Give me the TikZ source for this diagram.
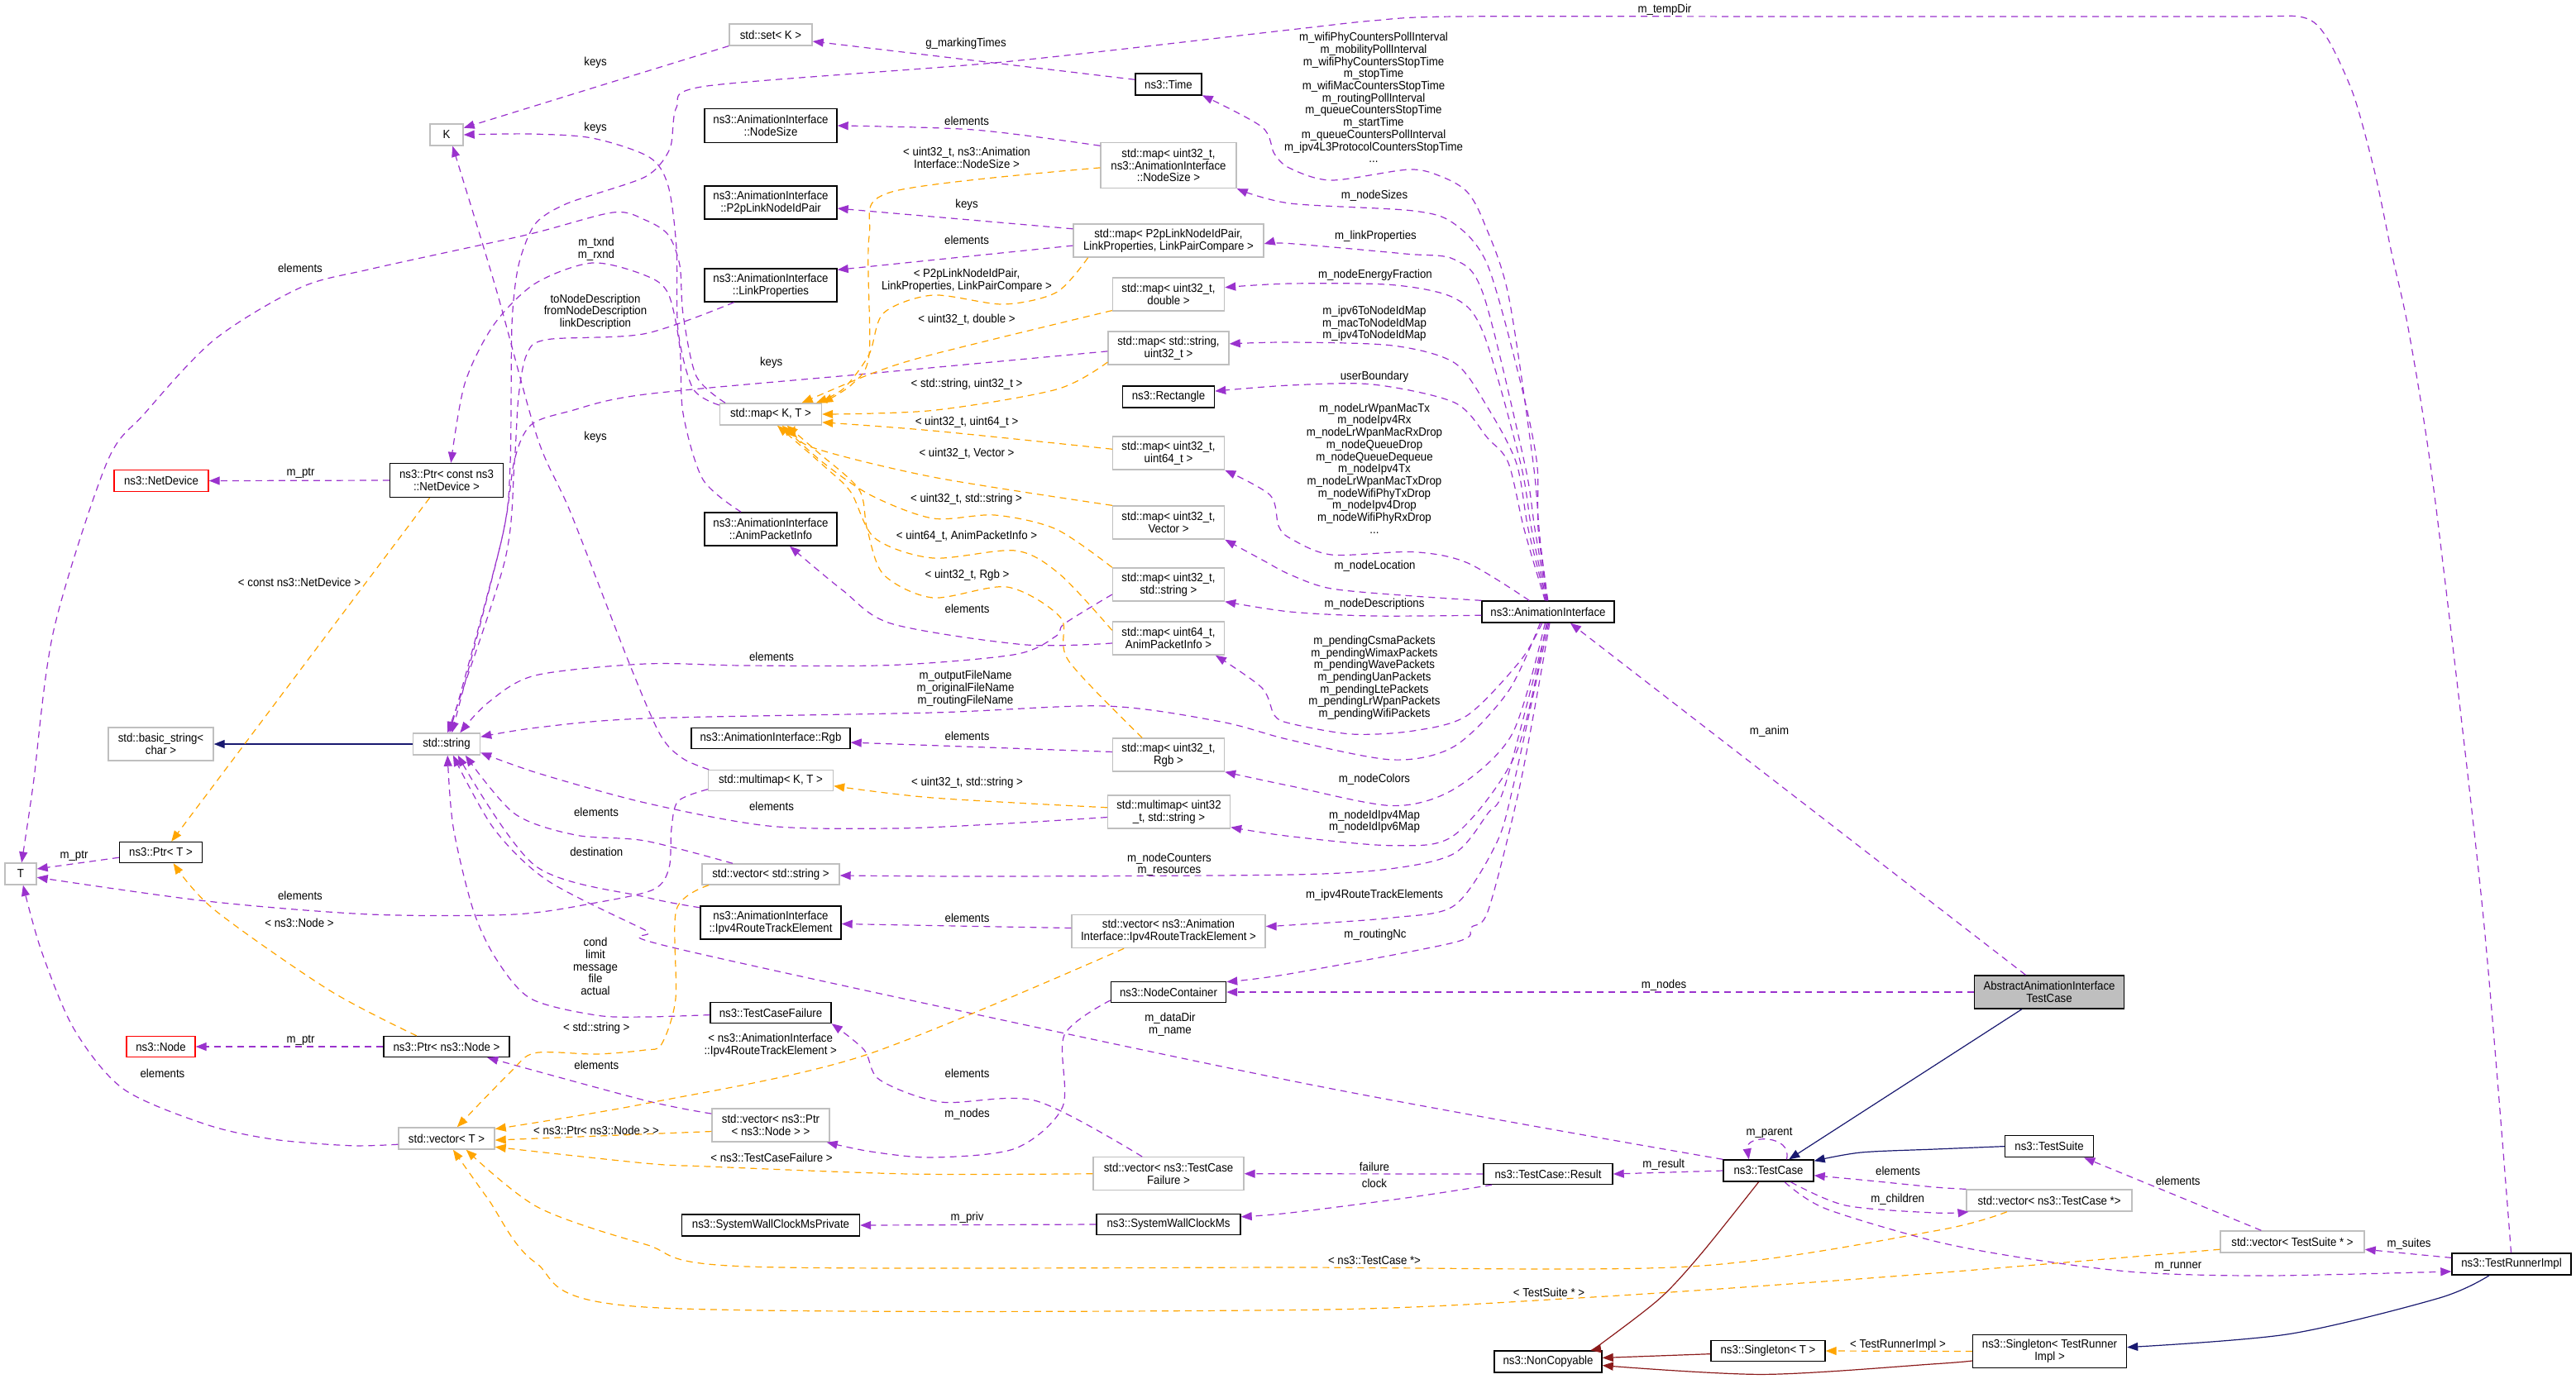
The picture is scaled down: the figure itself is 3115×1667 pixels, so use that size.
\documentclass[tikz,border=0pt]{standalone}
\usepackage{fontspec}
\setmainfont{Liberation Sans}[FakeStretch=0.92]
\usetikzlibrary{arrows.meta}
\definecolor{pc}{HTML}{9A32CD}
\definecolor{oc}{HTML}{FFA500}
\definecolor{bc}{HTML}{191970}
\definecolor{rc}{HTML}{8B1A1A}
\definecolor{gc}{HTML}{BFBFBF}
\tikzset{
 base/.style={font=\fontsize{7.2pt}{7.35pt}\selectfont},
 box/.style={base, draw, line width=0.7pt, inner sep=0pt, align=center, fill=white},
 dbox/.style={box, draw=black},
 ubox/.style={box, draw=gc},
 rbox/.style={box, draw=red},
 cbox/.style={box, draw=black, fill=gc},
 bw/.style={minimum width=#1*0.5pt},
 bh/.style={minimum height=#1*0.5pt},
 lbl/.style={base, inner sep=0pt, align=center},
 tipped/.style={-{Triangle[length=6.5pt,width=5pt]}},
 pe/.style={draw=pc, line width=0.6pt, dash pattern=on 4pt off 3pt, tipped},
 oe/.style={draw=oc, line width=0.6pt, dash pattern=on 4pt off 3pt, tipped},
 be/.style={draw=bc, line width=0.6pt, tipped},
 re/.style={draw=rc, line width=0.6pt, tipped},
 sm/.style={smooth, tension=0.5}
}
\begin{document}
\begin{tikzpicture}[x=0.5pt,y=-0.5pt]
\useasboundingbox (0,0) rectangle (3115,1667);
% ---------------- nodes
\node[ubox,bw=40,bh=26] (K) at (540,163) {K};
\node[ubox,bw=100,bh=26] (setK) at (932,42) {std::set< K >};
\node[dbox,bw=80,bh=26] (time) at (1413,102) {ns3::Time};
\node[dbox,bw=160,bh=41] (nsize) at (932,152) {ns3::AnimationInterface\\::NodeSize};
\node[ubox,bw=164,bh=55] (mapNS) at (1413,200) {std::map< uint32\_t,\\ns3::AnimationInterface\\::NodeSize >};
\node[dbox,bw=160,bh=40] (p2p) at (932,245) {ns3::AnimationInterface\\::P2pLinkNodeIdPair};
\node[ubox,bw=230,bh=40] (mapP2p) at (1413,291) {std::map< P2pLinkNodeIdPair,\\ LinkProperties, LinkPairCompare >};
\node[dbox,bw=160,bh=40] (linkp) at (932,345) {ns3::AnimationInterface\\::LinkProperties};
\node[ubox,bw=135,bh=40] (mapD) at (1413,356) {std::map< uint32\_t,\\double >};
\node[ubox,bw=146,bh=40] (mapSU) at (1413,421) {std::map< std::string,\\uint32\_t >};
\node[dbox,bw=111,bh=26] (rect) at (1413,480) {ns3::Rectangle};
\node[ubox,bw=123,bh=26] (mapKT) at (932,501) {std::map< K, T >};
\node[ubox,bw=135,bh=40] (mapU64) at (1413,548) {std::map< uint32\_t,\\uint64\_t >};
\node[ubox,bw=135,bh=40] (mapV) at (1413,632) {std::map< uint32\_t,\\Vector >};
\node[dbox,bw=160,bh=40] (api) at (932,640) {ns3::AnimationInterface\\::AnimPacketInfo};
\node[ubox,bw=135,bh=40] (mapS) at (1413,707) {std::map< uint32\_t,\\std::string >};
\node[ubox,bw=135,bh=40] (mapAPI) at (1413,772) {std::map< uint64\_t,\\AnimPacketInfo >};
\node[dbox,bw=192,bh=25] (rgb) at (932,893) {ns3::AnimationInterface::Rgb};
\node[ubox,bw=135,bh=40] (mapRgb) at (1413,913) {std::map< uint32\_t,\\Rgb >};
\node[ubox,bw=151,bh=25] (mmKT) at (932,944) {std::multimap< K, T >};
\node[ubox,bw=148,bh=40] (mmUS) at (1413.5,982) {std::multimap< uint32\\\_t, std::string >};
\node[ubox,bw=166,bh=25] (vecS) at (932,1057.5) {std::vector< std::string >};
\node[dbox,bw=170,bh=40] (ipv4) at (932,1116) {ns3::AnimationInterface\\::Ipv4RouteTrackElement};
\node[ubox,bw=234,bh=40] (vecIpv4) at (1413,1126.6) {std::vector< ns3::Animation\\Interface::Ipv4RouteTrackElement >};
\node[dbox,bw=139,bh=25] (nodec) at (1413,1200) {ns3::NodeContainer};
\node[dbox,bw=146,bh=25] (tcf) at (932,1225) {ns3::TestCaseFailure};
\node[ubox,bw=142,bh=40] (vecPN) at (932,1361) {std::vector< ns3::Ptr\\< ns3::Node > >};
\node[ubox,bw=182,bh=40] (vecTCF) at (1413,1419.7) {std::vector< ns3::TestCase\\Failure >};
\node[dbox,bw=215,bh=26] (swcp) at (932,1482) {ns3::SystemWallClockMsPrivate};
\node[dbox,bw=174,bh=25] (swc) at (1413,1481) {ns3::SystemWallClockMs};
\node[dbox,bw=160,bh=26] (aif) at (1872,740) {ns3::AnimationInterface};
\node[dbox,bw=156,bh=25] (result) at (1872,1420) {ns3::TestCase::Result};
\node[dbox,bw=130,bh=26] (noncopy) at (1872,1647) {ns3::NonCopyable};
\node[dbox,bw=109,bh=26] (testcase) at (2138.5,1416) {ns3::TestCase};
\node[dbox,bw=138,bh=25] (singT) at (2138,1634) {ns3::Singleton< T >};
\node[cbox,bw=181,bh=40] (abs) at (2478,1200) {AbstractAnimationInterface\\TestCase};
\node[dbox,bw=107,bh=26] (suite) at (2478,1386.6) {ns3::TestSuite};
\node[ubox,bw=200,bh=26] (vecTC) at (2478,1452) {std::vector< ns3::TestCase *>};
\node[ubox,bw=174,bh=26] (vecTS) at (2772,1502) {std::vector< TestSuite * >};
\node[dbox,bw=144,bh=26] (runner) at (3037,1529) {ns3::TestRunnerImpl};
\node[dbox,bw=186,bh=40] (singR) at (2478.5,1634.5) {ns3::Singleton< TestRunner\\Impl >};
\node[ubox,bw=81,bh=26] (strng) at (540,900) {std::string};
\node[dbox,bw=137,bh=41] (ptrND) at (540,581) {ns3::Ptr< const ns3\\::NetDevice >};
\node[rbox,bw=114,bh=26] (netdev) at (195,581.5) {ns3::NetDevice};
\node[ubox,bw=127,bh=40] (bstr) at (194.5,900) {std::basic\_string<\\char >};
\node[dbox,bw=100,bh=25] (ptrT) at (194.5,1031) {ns3::Ptr< T >};
\node[ubox,bw=38,bh=26] (T) at (25,1057) {T};
\node[rbox,bw=83,bh=25] (nnode) at (194.5,1266) {ns3::Node};
\node[dbox,bw=152,bh=25] (ptrN) at (540,1266) {ns3::Ptr< ns3::Node >};
\node[ubox,bw=116,bh=26] (vecT) at (540,1377) {std::vector< T >};
% ---------------- labels
\node[lbl] (l1) at (2013,11.4) {m\_tempDir};
\node[lbl] (l2) at (1168,52.9) {g\_markingTimes};
\node[lbl] (l3) at (720,76) {keys};
\node[lbl] (l4) at (1661,118) {m\_wifiPhyCountersPollInterval\\m\_mobilityPollInterval\\m\_wifiPhyCountersStopTime\\m\_stopTime\\m\_wifiMacCountersStopTime\\m\_routingPollInterval\\m\_queueCountersStopTime\\m\_startTime\\m\_queueCountersPollInterval\\m\_ipv4L3ProtocolCountersStopTime\\...};
\node[lbl] (l5) at (1169,146.8) {elements};
\node[lbl] (l6) at (720,154.6) {keys};
\node[lbl] (l7) at (1169,191) {< uint32\_t, ns3::Animation\\Interface::NodeSize >};
\node[lbl] (l8) at (1662,236.4) {m\_nodeSizes};
\node[lbl] (l9) at (1169,247.5) {keys};
\node[lbl] (l10) at (1663.5,286) {m\_linkProperties};
\node[lbl] (l11) at (1169,290.4) {elements};
\node[lbl] (l12) at (721,301.3) {m\_txnd\\m\_rxnd};
\node[lbl] (l13) at (363,324) {elements};
\node[lbl] (l14) at (1169,339.2) {< P2pLinkNodeIdPair,\\LinkProperties, LinkPairCompare >};
\node[lbl] (l15) at (1663,333) {m\_nodeEnergyFraction};
\node[lbl] (l16) at (720,377) {toNodeDescription\\fromNodeDescription\\linkDescription};
\node[lbl] (l17) at (1662,391.3) {m\_ipv6ToNodeIdMap\\m\_macToNodeIdMap\\m\_ipv4ToNodeIdMap};
\node[lbl] (l18) at (1169,386.8) {< uint32\_t, double >};
\node[lbl] (l19) at (932.7,438.6) {keys};
\node[lbl] (l20) at (1662,456) {userBoundary};
\node[lbl] (l21) at (1169,464.6) {< std::string, uint32\_t >};
\node[lbl] (l22) at (1662,566.5) {m\_nodeLrWpanMacTx\\m\_nodeIpv4Rx\\m\_nodeLrWpanMacRxDrop\\m\_nodeQueueDrop\\m\_nodeQueueDequeue\\m\_nodeIpv4Tx\\m\_nodeLrWpanMacTxDrop\\m\_nodeWifiPhyTxDrop\\m\_nodeIpv4Drop\\m\_nodeWifiPhyRxDrop\\...};
\node[lbl] (l23) at (1169,510.7) {< uint32\_t, uint64\_t >};
\node[lbl] (l24) at (720,528.6) {keys};
\node[lbl] (l25) at (1169,549) {< uint32\_t, Vector >};
\node[lbl] (l26) at (363.6,572.6) {m\_ptr};
\node[lbl] (l27) at (1168.5,604) {< uint32\_t, std::string >};
\node[lbl] (l28) at (1169,648.8) {< uint64\_t, AnimPacketInfo >};
\node[lbl] (l29) at (1662.5,684.6) {m\_nodeLocation};
\node[lbl] (l30) at (1169.5,695.4) {< uint32\_t, Rgb >};
\node[lbl] (l31) at (362,704.6) {< const ns3::NetDevice >};
\node[lbl] (l32) at (1662,730.5) {m\_nodeDescriptions};
\node[lbl] (l33) at (1169.5,736.4) {elements};
\node[lbl] (l34) at (933,794.5) {elements};
\node[lbl] (l35) at (1662,819.8) {m\_pendingCsmaPackets\\m\_pendingWimaxPackets\\m\_pendingWavePackets\\m\_pendingUanPackets\\m\_pendingLtePackets\\m\_pendingLrWpanPackets\\m\_pendingWifiPackets};
\node[lbl] (l36) at (1167.5,832.8) {m\_outputFileName\\m\_originalFileName\\m\_routingFileName};
\node[lbl] (l37) at (2139.5,884.7) {m\_anim};
\node[lbl] (l38) at (1169.5,890.7) {elements};
\node[lbl] (l39) at (1662,942.5) {m\_nodeColors};
\node[lbl] (l40) at (1169.5,947) {< uint32\_t, std::string >};
\node[lbl] (l41) at (933,975.7) {elements};
\node[lbl] (l42) at (721,982.8) {elements};
\node[lbl] (l43) at (1662,993.8) {m\_nodeIdIpv4Map\\m\_nodeIdIpv6Map};
\node[lbl] (l44) at (721.3,1030.5) {destination};
\node[lbl] (l45) at (89.5,1035.7) {m\_ptr};
\node[lbl] (l46) at (1414,1045.8) {m\_nodeCounters\\m\_resources};
\node[lbl] (l47) at (1662,1082.6) {m\_ipv4RouteTrackElements};
\node[lbl] (l48) at (363,1083.7) {elements};
\node[lbl] (l49) at (1169.5,1110.3) {elements};
\node[lbl] (l50) at (362,1116.5) {< ns3::Node >};
\node[lbl] (l51) at (1663,1130.7) {m\_routingNc};
\node[lbl] (l52) at (720,1169) {cond\\limit\\message\\file\\actual};
\node[lbl] (l53) at (2012,1191.5) {m\_nodes};
\node[lbl] (l54) at (1415,1239.2) {m\_dataDir\\m\_name};
\node[lbl] (l55) at (721.3,1244) {< std::string >};
\node[lbl] (l56) at (363.6,1258.8) {m\_ptr};
\node[lbl] (l57) at (931.7,1264) {< ns3::AnimationInterface\\::Ipv4RouteTrackElement >};
\node[lbl] (l58) at (721.3,1288.4) {elements};
\node[lbl] (l59) at (1169.5,1298.5) {elements};
\node[lbl] (l60) at (196.5,1298.5) {elements};
\node[lbl] (l61) at (1169.5,1347.7) {m\_nodes};
\node[lbl] (l62) at (721,1367.6) {< ns3::Ptr< ns3::Node > >};
\node[lbl] (l63) at (2139.5,1370.5) {m\_parent};
\node[lbl] (l64) at (933,1400.5) {< ns3::TestCaseFailure >};
\node[lbl] (l65) at (2011.7,1408.5) {m\_result};
\node[lbl] (l66) at (1662,1411.4) {failure};
\node[lbl] (l67) at (2295,1416.8) {elements};
\node[lbl] (l68) at (2633.7,1428.7) {elements};
\node[lbl] (l69) at (1662,1431) {clock};
\node[lbl] (l70) at (2294.7,1450.8) {m\_children};
\node[lbl] (l71) at (1169.5,1472.5) {m\_priv};
\node[lbl] (l72) at (2913,1505) {m\_suites};
\node[lbl] (l73) at (1662,1524.5) {< ns3::TestCase *>};
\node[lbl] (l74) at (2634,1531.8) {m\_runner};
\node[lbl] (l75) at (1873,1563.6) {< TestSuite * >};
\node[lbl] (l76) at (2295,1627) {< TestRunnerImpl >};
% ---------------- edges
\draw[pe] (setK.195) -- (K.22);
\draw[pe] plot[sm] coordinates {(mapKT.170) (838,470) (820,400) (818,300) (808,225) (785,190) (716,167) (640,162) (K.east)};
\draw[pe] plot[sm] coordinates {(mmKT.170) (825,917) (798,888) (760,800) (690,620) (650,530) (600,350) (K.298)};
\draw[pe] plot[sm] coordinates {(mapKT.166) (842,455) (826,380) (822,321) (808,284) (780,266) (741,257) (637,284) (450,325) (363,348) (259,411) (175,500) (129,560) (65,762) (40,950) (T.85)};
\draw[pe] plot[sm] coordinates {(mmKT.188) (820,969) (812,1002) (809,1050) (790,1076) (720,1092) (622,1106) (448,1106) (250,1090) (T.348)};
\draw[pe] (ptrT.187) -- (T.17);
\draw[pe] plot[sm] coordinates {(vecT.187) (423,1385.7) (330,1378) (249,1360) (149,1317) (89.5,1244.7) (50,1150) (T.282)};
\draw[be] (strng.west) -- (bstr.east);
\draw[pe] plot[smooth,tension=0.45] coordinates {(runner.92) (3002,1100) (2944,600) (2913,402) (2892,306) (2872,210) (2846,115) (2814,46) (2785,21) (2700,20) (2200,20) (1760,20) (1660,25) (1560,36) (1213,75) (855,104) (818,130) (810,180) (780,214) (686,246) (647,271) (627,321) (619,393) (617,560) (607,651) (strng.75)};
\draw[pe] plot[sm] coordinates {(mapSU.183) (1060,451) (780,477) (690,497) (642,514) (622,557) (607,651) (strng.65)};
\draw[pe] plot[sm] coordinates {(linkp.205) (780,403.6) (661.6,410.7) (637,428.6) (627,480) (622,560) (610,680) (strng.85)};
\draw[pe] plot[sm] coordinates {(mapS.190) (1287,754.5) (1277.5,769) (1228,791.5) (1078.5,804.5) (900,805) (780,803) (647,817) (590,850) (strng.40)};
\draw[pe] plot[sm] coordinates {(aif.235) (1824,836) (1759,902.5) (1684,919) (1560,895) (1476.5,873) (1337,854) (1128,862) (780,869) (650,880) (strng.12)};
\draw[pe] plot[sm] coordinates {(mmUS.185) (1200,997) (1078,1002) (929,999) (780,971) (650,935) (strng.346)};
\draw[pe] plot[sm] coordinates {(vecS.164) (780,1017) (696,1010) (622,984) (strng.329)};
\draw[pe] plot[sm] coordinates {(ipv4.168) (780,1085) (647,1047) (strng.315)};
\draw[pe] plot[sm] coordinates {(tcf.182) (780,1230) (721,1228) (642,1208) (600,1160) (572,1100) (548,1000) (strng.275)};
\draw[pe] plot[sm] coordinates {(testcase.north west) (1565,1308) (830,1150) (780,1125) (662,1065) (597,1002) (strng.300)};
\draw[pe] plot[sm] coordinates {(api.150) (850,580) (826,500) (822,420) (808,355) (780,333) (716,318) (647,343) (597,393) (562,464) (ptrND.76)};
\draw[pe] (ptrND.west) -- (netdev.east);
\draw[oe] (ptrND.226) -- (ptrT.46);
\draw[oe] plot[sm] coordinates {(ptrN.160) (398,1197.6) (258.7,1100) (ptrT.319)};
\draw[pe] (ptrN.west) -- (nnode.east);
\draw[pe] plot[sm] coordinates {(vecPN.169) (780,1331) (ptrN.345)};
\draw[oe] plot[sm] coordinates {(vecS.190) (818,1100) (817,1208) (800,1263) (780,1270) (721,1275) (647,1273.6) (617,1297) (vecT.47)};
\draw[oe] (vecPN.186) -- (vecT.358);
\draw[oe] plot[sm] coordinates {(vecIpv4.201) (1044,1277) (780,1335) (vecT.11)};
\draw[oe] plot[sm] coordinates {(vecTCF.west) (1100,1420) (857,1411) (780,1407) (vecT.350)};
\draw[oe] plot[sm] coordinates {(vecTC.195) (2340,1488.8) (2042.6,1532) (1560,1533) (904,1532) (780,1505) (650,1460) (vecT.330)};
\draw[oe] plot[sm] coordinates {(vecTS.186) (2300,1543) (1908,1570) (1560,1584.6) (780,1581) (647,1526.7) (590,1450) (vecT.300)};
\draw[oe] plot[sm] coordinates {(mapNS.182) (1078.5,232) (1051,286) (1051,428.6) (1030,465) (mapKT.north east)};
\draw[oe] plot[sm] coordinates {(mapP2p.192) (1277.5,353.6) (1213,368) (1128,357) (1068.5,378.6) (1051,428.6) (1020,470) (mapKT.14)};
\draw[oe] plot[sm] coordinates {(mapD.196) (1128,428.6) (1053.6,452) (mapKT.20)};
\draw[oe] plot[sm] coordinates {(mapSU.193) (1277.5,471) (1128,496.4) (mapKT.east)};
\draw[oe] plot[sm] coordinates {(mapU64.176) (1128,521) (mapKT.351)};
\draw[oe] plot[sm] coordinates {(mapV.north west) (1128,577) (979,540) (mapKT.335)};
\draw[oe] plot[sm] coordinates {(mapS.north west) (1277,640) (1203,623) (1128,627) (1053,599) (994,558.5) (mapKT.315)};
\draw[oe] plot[sm] coordinates {(mapAPI.172) (1282,695) (1228,666) (1128,675) (1058,651) (1029,595.5) (999,566) (mapKT.300)};
\draw[oe] plot[sm] coordinates {(mapRgb.147) (1292,799) (1282.5,747) (1218,710) (1128,723) (1068.5,695) (1048.6,640) (1038.7,592) (989,547) (mapKT.325)};
\draw[oe] plot[sm] coordinates {(mmUS.176) (1128,965) (mmKT.355)};
\draw[pe] plot[sm] coordinates {(mapNS.164) (1178,157) (nsize.east)};
\draw[pe] (mapP2p.173) -- (p2p.355);
\draw[pe] (mapP2p.183) -- (linkp.13);
\draw[pe] plot[sm] coordinates {(mapAPI.185) (1237.7,779.7) (1078.5,754.5) (1019,714) (api.318)};
\draw[pe] (mapRgb.177) -- (rgb.357);
\draw[pe] (vecIpv4.178) -- (ipv4.359);
\draw[pe] plot[sm] coordinates {(vecTCF.147) (1252.6,1331.5) (1138,1333) (1063.6,1306) (1045,1270) (tcf.south east)};
\draw[pe] plot[sm] coordinates {(nodec.188) (1287,1252) (1285,1338.7) (1228,1389) (1128,1400) (1053.6,1393) (vecPN.343)};
\draw[pe] (swc.west) -- (swcp.east);
\draw[pe] (time.172) -- (setK.351);
\draw[pe] plot[sm] coordinates {(aif.91) (1862,650) (1854,560) (1824,357) (1794,268) (1774,232) (1744,214) (1704,205) (1610,218) (1560,203.6) (1541,186) (1526,153.6) (time.342)};
\draw[pe] plot[sm] coordinates {(aif.93) (1860,640) (1858.5,560) (1839,464) (1799,321) (1759,271) (1709,255) (1560,246) (mapNS.south east)};
\draw[pe] plot[sm] coordinates {(aif.95) (1856,640) (1843.5,560) (1794,357) (1759,314) (1699,307) (1560,294.6) (mapP2p.358)};
\draw[pe] plot[sm] coordinates {(aif.98) (1852,640) (1838.6,560) (1794,403.6) (1759,360.7) (1684,344.6) (1560,343) (mapD.7)};
\draw[pe] plot[sm] coordinates {(aif.101) (1848,640) (1833.6,560) (1799,493) (1759,439) (1684,418) (1560,414) (mapSU.4)};
\draw[pe] plot[sm] coordinates {(aif.105) (1843,640) (1824,560) (1799,530) (1759,487) (1660,465) (1560,466) (rect.7)};
\draw[pe] plot[sm] coordinates {(aif.149) (1774,680.6) (1709,667.6) (1610,671) (1560,651) (1546,636) (1536,599) (mapU64.south east)};
\draw[pe] plot[sm] coordinates {(aif.north west) (1709,721) (1610,712) (1560,695) (1526,677) (mapV.south east)};
\draw[pe] plot[sm] coordinates {(aif.183) (1659.5,745) (1560,740) (mapS.south east)};
\draw[pe] plot[sm] coordinates {(aif.242) (1838.6,799) (1774,865.5) (1709,884) (1634.6,888) (1560,875) (1541,865) (1526,832) (mapAPI.340)};
\draw[pe] plot[sm] coordinates {(aif.255) (1828.6,887.7) (1759,954) (1684,974.6) (1560,950.6) (mapRgb.south east)};
\draw[pe] plot[sm] coordinates {(aif.262) (1833.6,910) (1759,1009.8) (1684,1022.7) (1560,1011.6) (mmUS.346)};
\draw[pe] plot[sm] coordinates {(aif.268) (1820,950) (1799,984) (1759,1032) (1684,1050.5) (1560,1058) (1200,1060) (vecS.359)};
\draw[pe] plot[sm] coordinates {(aif.273) (1830,950) (1809,1021) (1759,1095) (1684,1110) (1560,1119) (vecIpv4.3)};
\draw[pe] plot[sm] coordinates {(aif.278) (1838.6,947) (1800,1100) (1779,1121.7) (1759,1139.8) (1560,1177.8) (nodec.10)};
\draw[pe] (abs.144) -- (aif.333);
\draw[pe] (abs.west) -- (nodec.east);
\draw[be] (abs.212) -- (testcase.29);
\draw[be] plot[sm] coordinates {(suite.west) (2340,1390) (2250,1394) (testcase.12)};
\draw[pe] (testcase.32) .. controls (2168,1372) and (2110,1372) .. (testcase.150);
\draw[pe] (testcase.west) -- (result.east);
\draw[pe] (result.west) -- (vecTCF.east);
\draw[pe] plot[sm] coordinates {(result.191) (1700,1449) (1560,1467) (swc.6)};
\draw[pe] plot[sm] coordinates {(vecTC.north west) (2340,1436) (2260,1428) (testcase.354)};
\draw[pe] plot[sm] coordinates {(testcase.333) (2231.6,1458) (2340,1467) (vecTC.188)};
\draw[pe] plot[sm] coordinates {(testcase.325) (2207,1461.7) (2340,1501.4) (2456,1523) (2586,1539) (2742,1543) (runner.187)};
\draw[pe] (runner.174) -- (vecTS.354);
\draw[pe] (vecTS.160) -- (suite.342);
\draw[be] plot[sm] coordinates {(runner.207) (2949.7,1570) (2767.8,1613.6) (singR.3)};
\draw[oe] (singR.west) -- (singT.east);
\draw[re] (singT.183) -- (noncopy.4);
\draw[re] plot[sm] coordinates {(singR.187) (2340,1649.7) (2132,1662.4) (noncopy.356)};
\draw[re] plot[sm] coordinates {(testcase.229) (2057.5,1516) (2007.7,1570) (1938,1624) (noncopy.15)};
\end{tikzpicture}
\end{document}
